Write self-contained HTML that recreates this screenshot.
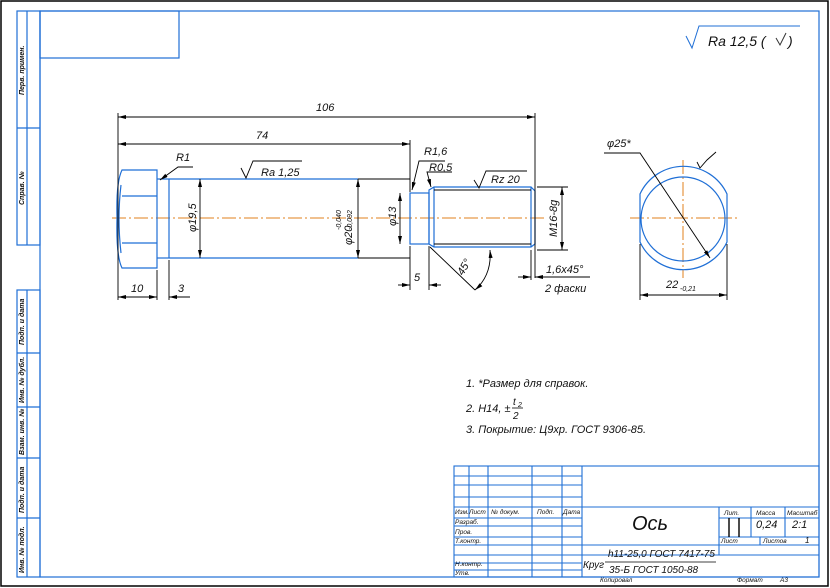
<!DOCTYPE html>
<html><head><meta charset="utf-8"><style>
html,body{margin:0;padding:0;background:#fff;}
svg{display:block;}
text{font-family:"Liberation Sans",sans-serif;font-style:italic;fill:#111;}
</style></head><body>
<svg width="830" height="588" viewBox="0 0 830 588" xmlns="http://www.w3.org/2000/svg">
<defs>
<marker id="a" markerWidth="8" markerHeight="4" refX="8" refY="2" orient="auto-start-reverse" markerUnits="userSpaceOnUse"><path d="M0,0 L8,2 L0,4z" fill="#000"/></marker>
</defs>
<rect x="1" y="1" width="827" height="585" fill="none" stroke="#000" stroke-width="1.5"/>
<g fill="none" stroke="#1f6fd6" stroke-width="1.2">
<rect x="40" y="11" width="779" height="566"/>
<rect x="40" y="11" width="139" height="47"/>
<rect x="17" y="11" width="23" height="234"/><line x1="27" y1="11" x2="27" y2="245"/><line x1="17" y1="128" x2="40" y2="128"/>
<rect x="17" y="290" width="23" height="287"/><line x1="27" y1="290" x2="27" y2="577"/>
<line x1="17" y1="353" x2="40" y2="353"/><line x1="17" y1="407" x2="40" y2="407"/><line x1="17" y1="458" x2="40" y2="458"/><line x1="17" y1="518" x2="40" y2="518"/>
</g>
<g font-size="7" font-weight="bold">
<text transform="translate(24,95) rotate(-90)">Перв. примен.</text>
<text transform="translate(24,205) rotate(-90)">Справ. №</text>
<text transform="translate(24,345) rotate(-90)">Подп. и дата</text>
<text transform="translate(24,403) rotate(-90)">Инв. № дубл.</text>
<text transform="translate(24,455) rotate(-90)">Взам. инв. №</text>
<text transform="translate(24,513) rotate(-90)">Подп. и дата</text>
<text transform="translate(24,573) rotate(-90)">Инв. № подл.</text>
</g>
<!-- roughness top-right -->
<path d="M686,36 L692,48 L699,26 L800,26" fill="none" stroke="#1f6fd6" stroke-width="1"/>
<text x="708" y="46" font-size="14" fill="#222">Ra 12,5 (</text>
<path d="M776,38 L780,45 L786,33" fill="none" stroke="#333"/>
<text x="788" y="46" font-size="14">)</text>
<!-- centerlines -->
<g stroke="#e0801c" stroke-width="1" stroke-dasharray="14,3,2,3">
<line x1="112" y1="218" x2="545" y2="218"/>
<line x1="630" y1="218" x2="737" y2="218"/>
<line x1="683" y1="160" x2="683" y2="278"/>
</g>
<!-- part -->
<g fill="none" stroke="#1f6fd6" stroke-width="1.2">
<path d="M122,170 L157,170 L157,268 L122,268 Q116,256 117,218 Q116,182 122,170Z"/>
<line x1="122" y1="196" x2="157" y2="196"/><line x1="122" y1="243" x2="157" y2="243"/>
<path d="M121,185 Q117,218 121,253"/>
<line x1="157" y1="179" x2="169" y2="179"/><line x1="157" y1="258" x2="169" y2="258"/>
<line x1="169" y1="179" x2="169" y2="258"/>
<line x1="169" y1="179" x2="358" y2="179"/><line x1="169" y1="258" x2="358" y2="258"/>
<rect x="410" y="193" width="19" height="51"/>
<path d="M429,190 L434,187 L531,187 L535,191 L535,244 L531,247 L434,247 L429,244Z"/>
<line x1="434" y1="187" x2="434" y2="247"/><line x1="531" y1="187" x2="531" y2="247"/>
<path d="M640,194 A48,48 0 0 1 727,194 L727,242 A48,48 0 0 1 640,242 Z"/>
<circle cx="683" cy="219" r="42"/>
</g>
<g fill="none" stroke="#000" stroke-width="0.9">
<line x1="358" y1="179" x2="410" y2="179"/><line x1="358" y1="258" x2="410" y2="258"/>
<line x1="434" y1="190" x2="531" y2="190"/><line x1="434" y1="244" x2="531" y2="244"/>
<line x1="118" y1="113" x2="118" y2="300"/><line x1="410" y1="140" x2="410" y2="192"/><line x1="535" y1="113" x2="535" y2="278"/>
<line x1="157" y1="270" x2="157" y2="300"/><line x1="169" y1="260" x2="169" y2="300"/>
<line x1="410" y1="246" x2="410" y2="290"/><line x1="429" y1="246" x2="429" y2="290"/>
<line x1="531" y1="250" x2="531" y2="280"/>
<line x1="118" y1="117" x2="535" y2="117" marker-start="url(#a)" marker-end="url(#a)"/>
<line x1="118" y1="144" x2="410" y2="144" marker-start="url(#a)" marker-end="url(#a)"/>
<line x1="200" y1="179" x2="200" y2="258" marker-start="url(#a)" marker-end="url(#a)"/>
<line x1="358" y1="179" x2="358" y2="258" marker-start="url(#a)" marker-end="url(#a)"/>
<line x1="400" y1="193" x2="400" y2="244" marker-start="url(#a)" marker-end="url(#a)"/>
<line x1="537" y1="187" x2="568" y2="187"/><line x1="537" y1="250" x2="568" y2="250"/>
<line x1="562" y1="187" x2="562" y2="250" marker-start="url(#a)" marker-end="url(#a)"/>
<line x1="118" y1="297" x2="157" y2="297" marker-start="url(#a)" marker-end="url(#a)"/>
<line x1="169" y1="297" x2="190" y2="297" marker-start="url(#a)"/>
<line x1="398" y1="285" x2="410" y2="285" marker-end="url(#a)"/><line x1="441" y1="285" x2="429" y2="285" marker-end="url(#a)"/>
<line x1="518" y1="277" x2="531" y2="277" marker-end="url(#a)"/><line x1="590" y1="277" x2="535" y2="277" marker-end="url(#a)"/>
<line x1="430" y1="247" x2="475" y2="290"/>
<path d="M490,250 Q492,275 475,290" marker-start="url(#a)" marker-end="url(#a)"/>
<path d="M193,167 L178,167 L160,180" marker-end="url(#a)"/>
<path d="M445,161 L419,161 L412,190" marker-end="url(#a)"/>
<path d="M452,172 L427,172 L431,187" marker-end="url(#a)"/>
<path d="M241,168 L246,178 L253,161 L302,161"/>
<path d="M474,180 L479,188 L486,171 L527,171"/>
<path d="M604,153 L640,153 L710,258" marker-end="url(#a)"/>
<path d="M697,162 L700,168 L707,160 L716,152"/>
<line x1="640" y1="244" x2="640" y2="300"/><line x1="727" y1="244" x2="727" y2="300"/>
<line x1="640" y1="295" x2="727" y2="295" marker-start="url(#a)" marker-end="url(#a)"/>
</g>
<g font-size="11">
<text x="316" y="111">106</text>
<text x="256" y="139">74</text>
<text x="176" y="161">R1</text>
<text x="261" y="176">Ra 1,25</text>
<text x="424" y="155">R1,6</text>
<text x="429" y="171">R0,5</text>
<text x="491" y="183">Rz 20</text>
<text x="131" y="292">10</text>
<text x="178" y="292">3</text>
<text x="414" y="281">5</text>
<text x="546" y="273">1,6x45°</text>
<text x="545" y="292">2 фаски</text>
<text x="607" y="147">φ25*</text>
<text x="666" y="288">22</text><text x="680" y="291" font-size="7">-0,21</text>
<text transform="translate(196,232) rotate(-90)">φ19,5</text>
<text transform="translate(352,245) rotate(-90)">φ20</text>
<text transform="translate(341,230) rotate(-90)" font-size="7">-0,040</text>
<text transform="translate(352,230) rotate(-90)" font-size="7">-0,092</text>
<text transform="translate(396,226) rotate(-90)">φ13</text>
<text transform="translate(557,237) rotate(-90)">M16-8g</text>
<text transform="translate(463,276) rotate(-60)">45°</text>
<text x="466" y="387">1.  *Размер для справок.</text>
<text x="466" y="412">2. H14, ±</text><text x="513" y="405" font-size="10">t</text><text x="518" y="407" font-size="7">2</text>
<line x1="512" y1="408" x2="523" y2="408" stroke="#000" stroke-width="0.8"/><text x="513" y="419" font-size="10">2</text>
<text x="466" y="433">3. Покрытие: Ц9хр. ГОСТ 9306-85.</text>
</g>
<!-- title block -->
<g fill="none" stroke="#1f6fd6" stroke-width="1.1">
<rect x="454" y="466" width="365" height="111"/>
<line x1="582" y1="466" x2="582" y2="577"/>
<line x1="469" y1="466" x2="469" y2="507"/><line x1="469" y1="507" x2="469" y2="518"/>
<line x1="488" y1="466" x2="488" y2="577"/><line x1="532" y1="466" x2="532" y2="577"/><line x1="562" y1="466" x2="562" y2="577"/>
<line x1="454" y1="476" x2="582" y2="476"/><line x1="454" y1="485" x2="582" y2="485"/><line x1="454" y1="497" x2="582" y2="497"/>
<line x1="454" y1="507" x2="819" y2="507"/><line x1="454" y1="518" x2="582" y2="518"/>
<line x1="454" y1="526" x2="582" y2="526"/><line x1="454" y1="537" x2="582" y2="537"/>
<line x1="454" y1="545" x2="819" y2="545"/><line x1="454" y1="555" x2="582" y2="555"/>
<line x1="454" y1="563" x2="582" y2="563"/><line x1="454" y1="570" x2="582" y2="570"/>
<line x1="719" y1="507" x2="719" y2="555"/><line x1="582" y1="555" x2="819" y2="555"/>
<line x1="719" y1="518" x2="819" y2="518"/><line x1="719" y1="537" x2="819" y2="537"/>
<line x1="751" y1="507" x2="751" y2="537"/><line x1="785" y1="507" x2="785" y2="537"/>
<line x1="760" y1="537" x2="760" y2="545"/>
</g>
<g stroke="#000" stroke-width="1.4"><line x1="729" y1="518" x2="729" y2="537"/><line x1="739" y1="518" x2="739" y2="537"/></g>
<g font-size="6.5">
<text x="455" y="514">Изм.</text><text x="469" y="514">Лист</text><text x="491" y="514">№ докум.</text><text x="537" y="514">Подп.</text><text x="563" y="514">Дата</text>
<text x="455" y="524">Разраб.</text><text x="455" y="534">Пров.</text><text x="455" y="543">Т.контр.</text>
<text x="455" y="566">Н.контр.</text><text x="455" y="575">Утв.</text>
<text x="724" y="515">Лит.</text><text x="756" y="515">Масса</text><text x="787" y="515">Масштаб</text>
<text x="721" y="543">Лист</text><text x="763" y="543">Листов</text><text x="805" y="543" font-size="8">1</text>
<text x="600" y="582">Копировал</text><text x="737" y="582">Формат</text><text x="780" y="582">А3</text>
</g>
<text x="632" y="530" font-size="20">Ось</text>
<text x="756" y="528" font-size="11">0,24</text><text x="792" y="528" font-size="11">2:1</text>
<text x="583" y="568" font-size="10">Круг</text>
<text x="608" y="557" font-size="10">h11-25,0 ГОСТ 7417-75</text>
<line x1="605" y1="562" x2="716" y2="562" stroke="#000" stroke-width="0.8"/>
<text x="609" y="573" font-size="10">35-Б ГОСТ 1050-88</text>
</svg>
</body></html>
